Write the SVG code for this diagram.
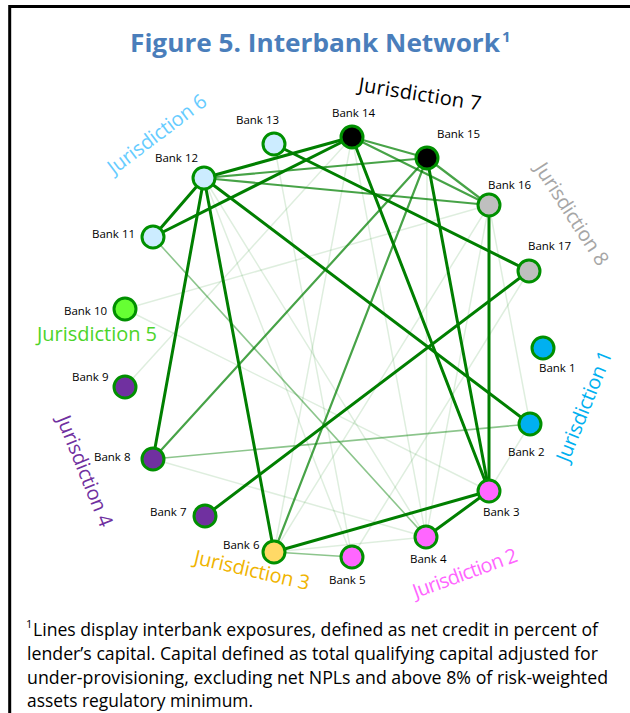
<svg xmlns="http://www.w3.org/2000/svg" width="630" height="713" viewBox="0 0 630 713">
<style>
.e{stroke:#007F00;fill:none;stroke-linecap:round}
.t{stroke-width:3}
.m{stroke-width:2.2;stroke-opacity:.72}
.l{stroke-width:1.6;stroke-opacity:.45}
.f{stroke-width:1.5;stroke-opacity:.13}
.n{stroke:#009000;stroke-width:3}
.bl{font-family:"Open Sans","Liberation Sans",sans-serif;font-size:11.5px;fill:#000}
.j{font-family:"Open Sans","Liberation Sans",sans-serif;font-size:20px;text-anchor:middle}
.fn{font-family:"Open Sans","Liberation Sans",sans-serif;font-size:18px;fill:#000}
.sup{font-family:"Open Sans","Liberation Sans",sans-serif;font-size:11px;fill:#000}
</style>
<rect width="630" height="713" fill="#fff"/>
<path d="M9.7 713V6.5H630" fill="none" stroke="#000" stroke-width="3"/>
<text x="130" y="52" font-family="'Open Sans','Liberation Sans',sans-serif" font-weight="700" font-size="25" fill="#4A7EBB" textLength="370" lengthAdjust="spacingAndGlyphs">Figure 5. Interbank Network</text>
<text x="502" y="42" font-family="'Open Sans','Liberation Sans',sans-serif" font-weight="700" font-size="15" fill="#4A7EBB">1</text>
<g id="connectors">
<line class="e f" x1="125" y1="309" x2="489" y2="205"/>
<line class="e f" x1="125" y1="309" x2="489" y2="491"/>
<line class="e f" x1="153" y1="459" x2="426" y2="537"/>
<line class="e f" x1="274" y1="552" x2="426" y2="537"/>
<line class="e f" x1="125" y1="387" x2="352" y2="137"/>
<line class="e f" x1="352" y1="137" x2="274" y2="552"/>
<line class="e f" x1="352" y1="137" x2="426" y2="537"/>
<line class="e f" x1="204" y1="178" x2="352" y2="557"/>
<line class="e f" x1="204" y1="178" x2="426" y2="537"/>
<line class="e f" x1="489" y1="205" x2="530" y2="424"/>
<line class="e f" x1="489" y1="205" x2="274" y2="552"/>
<line class="e f" x1="489" y1="491" x2="530" y2="424"/>
<line class="e f" x1="274" y1="144" x2="352" y2="557"/>
<line class="e f" x1="489" y1="205" x2="426" y2="537"/>
<line class="e f" x1="427" y1="158" x2="426" y2="537"/>
<line class="e f" x1="529" y1="271" x2="352" y2="557"/>
<line class="e l" x1="153" y1="237" x2="426" y2="537"/>
<line class="e l" x1="153" y1="459" x2="530" y2="424"/>
<line class="e l" x1="274" y1="552" x2="352" y2="557"/>
<line class="e m" x1="352" y1="137" x2="427" y2="158"/>
<line class="e m" x1="427" y1="158" x2="153" y2="459"/>
<line class="e m" x1="427" y1="158" x2="274" y2="552"/>
<line class="e m" x1="204" y1="178" x2="427" y2="158"/>
<line class="e m" x1="204" y1="178" x2="489" y2="205"/>
<line class="e m" x1="427" y1="158" x2="489" y2="205"/>
<line class="e m" x1="352" y1="137" x2="489" y2="205"/>
<line class="e t" x1="204" y1="178" x2="352" y2="137"/>
<line class="e t" x1="153" y1="237" x2="352" y2="137"/>
<line class="e t" x1="153" y1="237" x2="204" y2="178"/>
<line class="e t" x1="204" y1="178" x2="153" y2="459"/>
<line class="e t" x1="204" y1="178" x2="274" y2="552"/>
<line class="e t" x1="204" y1="178" x2="530" y2="424"/>
<line class="e t" x1="274" y1="144" x2="529" y2="271"/>
<line class="e t" x1="352" y1="137" x2="489" y2="491"/>
<line class="e t" x1="427" y1="158" x2="489" y2="491"/>
<line class="e t" x1="489" y1="205" x2="489" y2="491"/>
<line class="e t" x1="529" y1="271" x2="205" y2="516"/>
<line class="e t" x1="274" y1="552" x2="489" y2="491"/>
<line class="e t" x1="489" y1="491" x2="426" y2="537"/>
</g>
<g id="bank1"><circle class="n" cx="543" cy="348" r="11" fill="#00B0F0"/><text class="bl" x="539" y="372">Bank 1</text></g>
<g id="bank2"><circle class="n" cx="530" cy="424" r="11" fill="#00B0F0"/><text class="bl" x="508" y="456">Bank 2</text></g>
<g id="bank3"><circle class="n" cx="489" cy="491" r="11" fill="#FF66FF"/><text class="bl" x="483" y="516">Bank 3</text></g>
<g id="bank4"><circle class="n" cx="426" cy="537" r="11" fill="#FF66FF"/><text class="bl" x="410" y="563">Bank 4</text></g>
<g id="bank5"><circle class="n" cx="352" cy="557" r="11" fill="#FF66FF"/><text class="bl" x="329" y="584">Bank 5</text></g>
<g id="bank6"><circle class="n" cx="274" cy="552" r="11" fill="#FFD966"/><text class="bl" x="223" y="549">Bank 6</text></g>
<g id="bank7"><circle class="n" cx="205" cy="516" r="11" fill="#7030A0"/><text class="bl" x="150" y="516">Bank 7</text></g>
<g id="bank8"><circle class="n" cx="153" cy="459" r="11" fill="#7030A0"/><text class="bl" x="94" y="461">Bank 8</text></g>
<g id="bank9"><circle class="n" cx="125" cy="387" r="11" fill="#7030A0"/><text class="bl" x="72" y="381">Bank 9</text></g>
<g id="bank10"><circle class="n" cx="125" cy="309" r="11" fill="#66FF33"/><text class="bl" x="64" y="315">Bank 10</text></g>
<g id="bank11"><circle class="n" cx="153" cy="237" r="11" fill="#CCECFF"/><text class="bl" x="92" y="238">Bank 11</text></g>
<g id="bank12"><circle class="n" cx="204" cy="178" r="11" fill="#CCECFF"/><text class="bl" x="155" y="162">Bank 12</text></g>
<g id="bank13"><circle class="n" cx="274" cy="144" r="11" fill="#CCECFF"/><text class="bl" x="236" y="124">Bank 13</text></g>
<g id="bank14"><circle class="n" cx="352" cy="137" r="11" fill="#000"/><text class="bl" x="332" y="117">Bank 14</text></g>
<g id="bank15"><circle class="n" cx="427" cy="158" r="11" fill="#000"/><text class="bl" x="437" y="138">Bank 15</text></g>
<g id="bank16"><circle class="n" cx="489" cy="205" r="11" fill="#BFBFBF"/><text class="bl" x="488" y="189">Bank 16</text></g>
<g id="bank17"><circle class="n" cx="529" cy="271" r="11" fill="#BFBFBF"/><text class="bl" x="528" y="250">Bank 17</text></g>
<g id="jurisdictions">
<text class="j" fill="#000" transform="translate(420 94) rotate(9)" dy="7" textLength="124">Jurisdiction 7</text>
<text class="j" fill="#66CCFF" transform="translate(157 134) rotate(-37)" dy="7" textLength="118">Jurisdiction 6</text>
<text class="j" fill="#A6A6A6" transform="translate(572 214) rotate(57)" dy="7" textLength="118">Jurisdiction 8</text>
<text class="j" fill="#00B0F0" transform="translate(584 406) rotate(-68)" dy="7" textLength="118">Jurisdiction 1</text>
<text class="j" fill="#4CD42A" x="97" y="341" textLength="120">Jurisdiction 5</text>
<text class="j" fill="#7030A0" transform="translate(85 471) rotate(68)" dy="7" textLength="118">Jurisdiction 4</text>
<text class="j" fill="#F0B400" transform="translate(252 570) rotate(13)" dy="7" textLength="118">Jurisdiction 3</text>
<text class="j" fill="#FF66FF" transform="translate(465 573) rotate(-20)" dy="7" textLength="110">Jurisdiction 2</text>
</g>
<g id="footnote">
<text class="sup" x="26" y="628">1</text>
<text class="fn" x="33" y="636" textLength="565" lengthAdjust="spacingAndGlyphs">Lines display interbank exposures, defined as net credit in percent of</text>
<text class="fn" x="27" y="660" textLength="571" lengthAdjust="spacingAndGlyphs">lender’s capital. Capital defined as total qualifying capital adjusted for</text>
<text class="fn" x="27" y="684" textLength="581" lengthAdjust="spacingAndGlyphs">under-provisioning, excluding net NPLs and above 8% of risk-weighted</text>
<text class="fn" x="27" y="707" textLength="226" lengthAdjust="spacingAndGlyphs">assets regulatory minimum.</text>
</g>
</svg>
